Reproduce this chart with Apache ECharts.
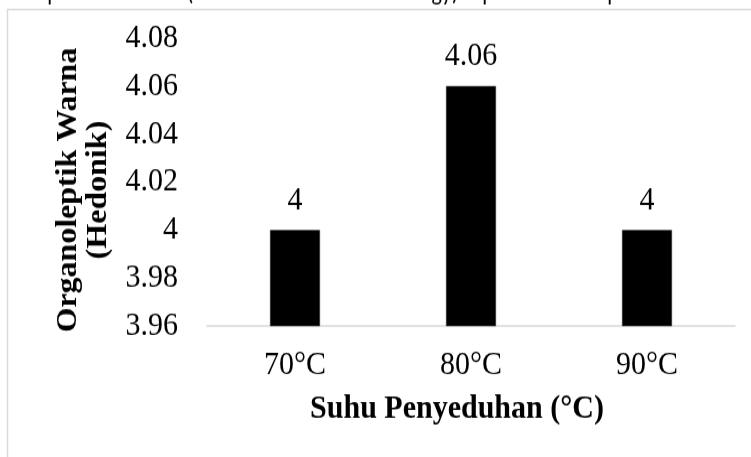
<!DOCTYPE html>
<html>
<head>
<meta charset="utf-8">
<script src="https://cdn.jsdelivr.net/npm/echarts@6/dist/echarts.min.js"></script>
<style>
  html, body { margin: 0; padding: 0; background: #ffffff; overflow: hidden; }
  #wrap { width: 751px; height: 457px; overflow: hidden; }
  #chart { width: 751px; transform-origin: 0 0; }
</style>
</head>
<body>
<div id="wrap"><div id="chart"></div></div>
<script>
// Brewing temperatures and mean hedonic colour scores
const categories = ['70°C', '80°C', '90°C'];
const colourScores = [4, 4.06, 4];
const yTicks = { min: 3.96, max: 4.08, step: 0.02 };

// the figure is drawn slightly compressed and stretched back vertically
const S = 1.12;
const H = 457 / S;
const el = document.getElementById('chart');
el.style.height = H + 'px';
el.style.transform = 'scaleY(' + S + ')';
const v = y => y / S;

const serif = '"Liberation Serif", "Times New Roman", serif';
const sans = '22px Carlito, "Noto Sans", sans-serif';
const chart = echarts.init(el, null, { renderer: 'canvas' });

chart.setOption({
  animation: false,
  backgroundColor: '#ffffff',
  grid: { left: 207, right: 16, top: v(38), bottom: v(131), containLabel: false },
  xAxis: {
    type: 'category',
    data: categories,
    axisLine: { show: true, lineStyle: { color: '#d9d9d9', width: 1.5 } },
    axisTick: { show: false },
    axisLabel: { color: '#000', fontFamily: serif, fontSize: 30, margin: v(22) },
    splitLine: { show: false }
  },
  yAxis: {
    type: 'value',
    min: yTicks.min,
    max: yTicks.max,
    interval: yTicks.step,
    axisLine: { show: false },
    axisTick: { show: false },
    splitLine: { show: false },
    axisLabel: {
      color: '#000', fontFamily: serif, fontSize: 30, margin: 29,
      formatter: val => String(+val.toFixed(2))
    }
  },
  series: [{
    type: 'bar',
    data: colourScores,
    barWidth: 50,
    itemStyle: { color: '#000', borderColor: '#3a3a3a', borderWidth: 0.5 },
    label: {
      show: true, position: 'top', distance: v(13),
      color: '#000', fontFamily: serif, fontSize: 30,
      formatter: p => String(p.value)
    }
  }],
  graphic: [
    // chart frame
    { type: 'rect', shape: { x: 7.5, y: v(9.5), width: 800, height: 500 },
      style: { fill: 'none', stroke: '#d9d9d9', lineWidth: 1.4 }, silent: true, z: -1 },
    // axis titles
    { type: 'text', x: 84, y: v(190), rotation: Math.PI / 2,
      style: { text: 'Organoleptik Warna\n(Hedonik)', fill: '#000', font: 'bold 28.5px ' + serif,
               align: 'center', verticalAlign: 'middle', lineHeight: 30 } },
    { type: 'text', x: 457, y: v(409),
      style: { text: 'Suhu Penyeduhan (°C)', fill: '#000', font: 'bold 30px ' + serif,
               align: 'center', verticalAlign: 'middle' } },
    // descenders of the running text above the figure
    { type: 'text', x: 53, y: v(6), style: { text: 'p', fill: '#000', font: sans, align: 'center', verticalAlign: 'bottom' } },
    { type: 'text', x: 190, y: v(6), style: { text: '(', fill: '#000', font: sans, align: 'center', verticalAlign: 'bottom' } },
    { type: 'text', x: 445, y: v(6), style: { text: 'gy)', fill: '#000', font: sans, align: 'center', verticalAlign: 'bottom' } },
    { type: 'text', x: 488, y: v(6), style: { text: 'p', fill: '#000', font: sans, align: 'center', verticalAlign: 'bottom' } },
    { type: 'text', x: 613, y: v(6), style: { text: 'p', fill: '#000', font: sans, align: 'center', verticalAlign: 'bottom' } }
  ]
});
</script>
</body>
</html>
